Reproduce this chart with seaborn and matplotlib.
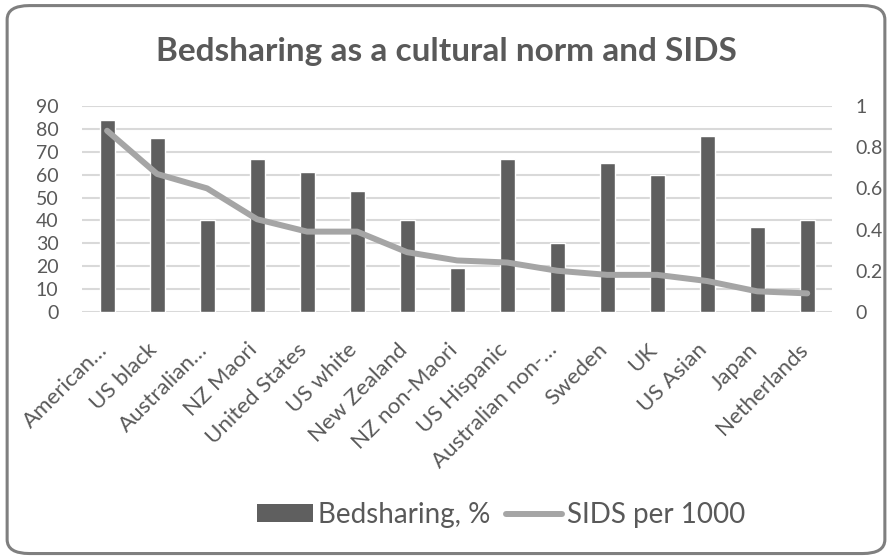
import matplotlib
matplotlib.use("Agg")
import matplotlib.pyplot as plt
import matplotlib.transforms as mtransforms
import seaborn as sns
import numpy as np
import pandas as pd
from matplotlib.patches import FancyBboxPatch, Patch
from matplotlib.lines import Line2D

# data
categories = ["American…", "US black", "Australian…", "NZ Maori", "United States",
              "US white", "New Zealand", "NZ non-Maori", "US Hispanic",
              "Australian non-…", "Sweden", "UK", "US Asian", "Japan", "Netherlands"]
bedsharing = [84, 76, 40, 67, 61, 53, 40, 19, 67, 30, 65, 60, 77, 37, 40]
sids = [0.88, 0.67, 0.60, 0.45, 0.39, 0.39, 0.29, 0.25, 0.24, 0.20, 0.18, 0.18, 0.15, 0.10, 0.09]

df = pd.DataFrame({"group": categories, "bed": bedsharing, "sids": sids, "pos": np.arange(len(categories))})

sns.set_style("white")
plt.rcParams["font.family"] = ["Lato", "DejaVu Sans"]
txt = "#595959"
bar_col = "#5f5f5f"
line_col = "#a5a5a5"

fig = plt.figure(figsize=(8.92, 5.58), dpi=100)
fig.patches.append(FancyBboxPatch((0.008, 0.008), 0.984, 0.982, boxstyle="round,pad=0,rounding_size=0.025",
                                  transform=fig.transFigure, facecolor="white",
                                  edgecolor="#7f7f7f", linewidth=2.2, zorder=-1))

ax = fig.add_axes([0.092, 0.441, 0.841, 0.369])
ax.set_facecolor("none")
sns.barplot(data=df, x="group", y="bed", color=bar_col, width=0.3, saturation=1, ax=ax, zorder=3)
ax.set_ylim(0, 90)
ax.set_yticks(range(0, 91, 10))
ax.set_xlim(-0.5, len(categories) - 0.5)
ax.grid(axis="y", color="#d9d9d9", linewidth=1.5, zorder=0)
ax.set_axisbelow(True)
for s in ax.spines.values():
    s.set_visible(False)
ax.set_xlabel("")
ax.set_ylabel("")
ax.tick_params(axis="y", labelsize=14, labelcolor=txt, length=0, pad=17)
ax.tick_params(axis="x", length=0, pad=20)
ax.set_xticks(range(len(categories)))
ax.set_xticklabels(categories, rotation=45, ha="right", va="top", rotation_mode="anchor",
                   fontsize=16, color=txt)
shift = mtransforms.ScaledTranslation(-10 / 100, 0, fig.dpi_scale_trans)
for lab in ax.get_xticklabels():
    lab.set_transform(lab.get_transform() + shift)

ax2 = ax.twinx()
sns.lineplot(data=df, x="pos", y="sids", color=line_col, linewidth=4.3, ax=ax2, zorder=4)
ax2.set_ylim(0, 1)
ax2.set_yticks(np.arange(0, 1.01, 0.2))
ax2.set_yticklabels(["0", "0.2", "0.4", "0.6", "0.8", "1"])
ax2.set_ylabel("")
ax2.set_xlabel("")
for s in ax2.spines.values():
    s.set_visible(False)
ax2.tick_params(axis="y", labelsize=14, labelcolor=txt, length=0, pad=16.5)

fig.text(0.5, 0.907, "Bedsharing as a cultural norm and SIDS", ha="center", va="center",
         fontsize=24, fontweight="bold", color=txt)

handles = [Patch(facecolor=bar_col, edgecolor="none"),
           Line2D([0], [0], color=line_col, linewidth=4.3)]
fig.legend(handles, ["Bedsharing, %", "SIDS per 1000"], loc="center", bbox_to_anchor=(0.562, 0.077),
           ncol=2, frameon=False, fontsize=20, labelcolor=txt, handlelength=2.0,
           handleheight=0.6, handletextpad=0.2, columnspacing=0.55)

fig.savefig("out.png", dpi=100)
